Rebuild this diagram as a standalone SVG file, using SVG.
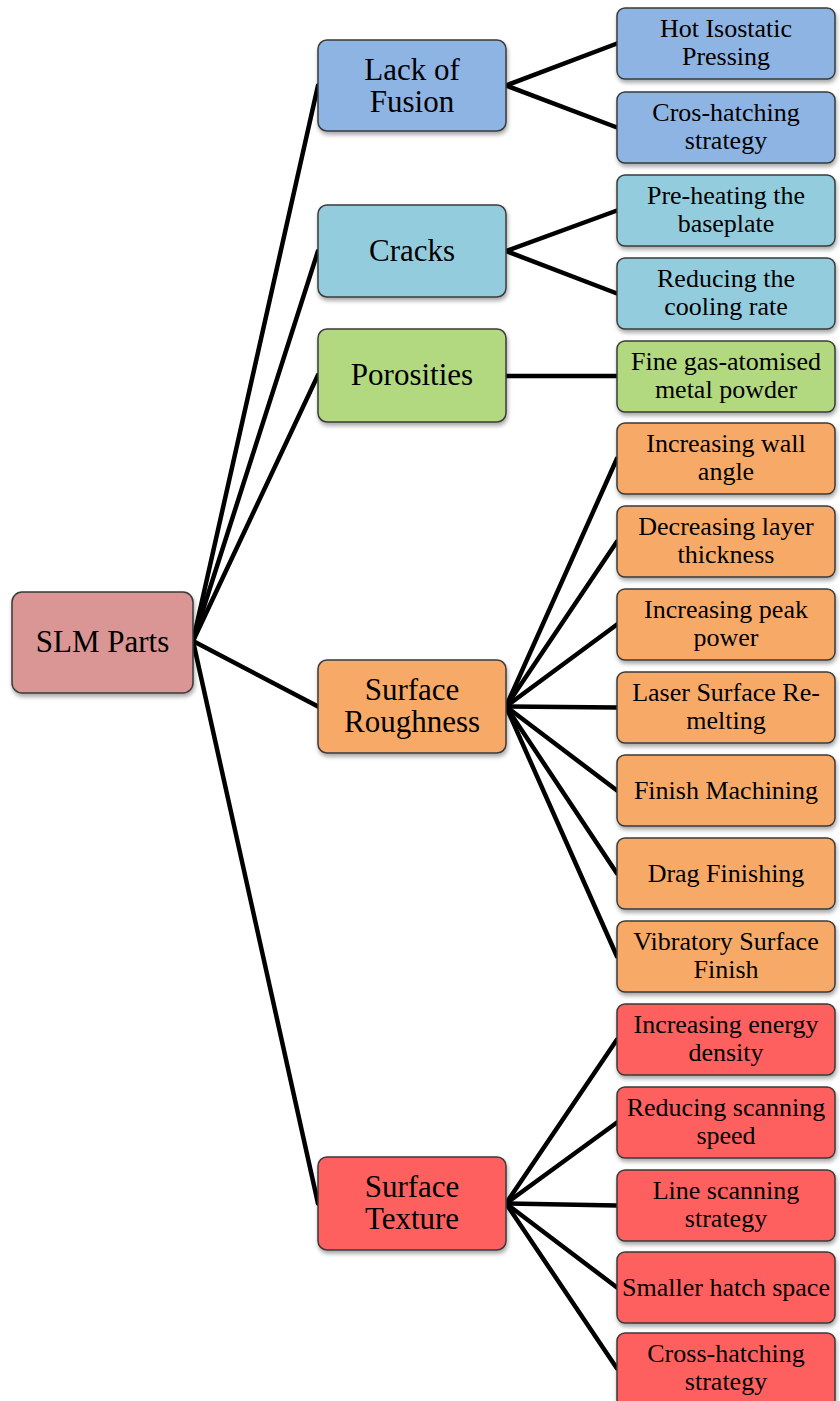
<svg xmlns="http://www.w3.org/2000/svg" width="840" height="1401" viewBox="0 0 840 1401">
<defs>
<filter id="sh" x="-10%" y="-10%" width="125%" height="135%">
<feDropShadow dx="1" dy="3" stdDeviation="2" flood-color="#000" flood-opacity="0.35"/>
</filter>
<style>
.box{stroke:#3a3a3a;stroke-width:1.5;filter:url(#sh)}
.root{fill:#d99694}
.lof{fill:#8eb4e3}
.cr{fill:#93cddd}
.po{fill:#b2d880}
.ro{fill:#f7aa68}
.te{fill:#fe6060}
.m{font-size:31px}
.l{font-size:26px}
.conn line{stroke:#000;stroke-width:4.5;stroke-linecap:round}
</style>
</defs>
<rect width="840" height="1401" fill="#fff"/>
<g class="conn" id="connectors">
<line x1="193" y1="641" x2="318" y2="85.5"/>
<line x1="193" y1="641" x2="318" y2="251"/>
<line x1="193" y1="641" x2="318" y2="375"/>
<line x1="193" y1="641" x2="318" y2="706.5"/>
<line x1="193" y1="641" x2="318" y2="1203.5"/>
<line x1="506" y1="85.5" x2="617" y2="43.5"/>
<line x1="506" y1="85.5" x2="617" y2="127.5"/>
<line x1="506" y1="251" x2="617" y2="210.5"/>
<line x1="506" y1="251" x2="617" y2="293.5"/>
<line x1="506" y1="376" x2="617" y2="376"/>
<line x1="506" y1="706.5" x2="617" y2="458.5"/>
<line x1="506" y1="706.5" x2="617" y2="541.5"/>
<line x1="506" y1="706.5" x2="617" y2="624.5"/>
<line x1="506" y1="706.5" x2="617" y2="707.5"/>
<line x1="506" y1="706.5" x2="617" y2="790.5"/>
<line x1="506" y1="706.5" x2="617" y2="873.5"/>
<line x1="506" y1="706.5" x2="617" y2="956.5"/>
<line x1="506" y1="1203.5" x2="617" y2="1039.5"/>
<line x1="506" y1="1203.5" x2="617" y2="1122.5"/>
<line x1="506" y1="1203.5" x2="617" y2="1205.5"/>
<line x1="506" y1="1203.5" x2="617" y2="1287.5"/>
<line x1="506" y1="1203.5" x2="617" y2="1368.5"/>
</g>
<g id="nodes" font-family="Liberation Serif, DejaVu Serif, serif" fill="#000" text-anchor="middle">
<g id="root"><rect class="box root" x="12" y="592" width="181" height="101" rx="10"/><text class="m" x="102.5" y="652">SLM Parts</text></g>
<g id="lack-of-fusion"><rect class="box lof" x="318" y="40" width="188" height="91" rx="9"/><text class="m" x="412" y="80">Lack of</text><text class="m" x="412" y="112">Fusion</text></g>
<g id="cracks"><rect class="box cr" x="318" y="205" width="188" height="92" rx="9"/><text class="m" x="412" y="261">Cracks</text></g>
<g id="porosities"><rect class="box po" x="318" y="329" width="188" height="93" rx="9"/><text class="m" x="412" y="385">Porosities</text></g>
<g id="surface-roughness"><rect class="box ro" x="318" y="660" width="188" height="93" rx="9"/><text class="m" x="412" y="700">Surface</text><text class="m" x="412" y="732">Roughness</text></g>
<g id="surface-texture"><rect class="box te" x="318" y="1157" width="188" height="93" rx="9"/><text class="m" x="412" y="1197">Surface</text><text class="m" x="412" y="1229">Texture</text></g>
<g id="leaf-hip"><rect class="box lof" x="617" y="8" width="218" height="71" rx="8"/><text class="l" x="726" y="37">Hot Isostatic</text><text class="l" x="726" y="65">Pressing</text></g>
<g id="leaf-cros-hatching"><rect class="box lof" x="617" y="92" width="218" height="71" rx="8"/><text class="l" x="726" y="121">Cros-hatching</text><text class="l" x="726" y="149">strategy</text></g>
<g id="leaf-preheating"><rect class="box cr" x="617" y="175" width="218" height="71" rx="8"/><text class="l" x="726" y="204">Pre-heating the</text><text class="l" x="726" y="232">baseplate</text></g>
<g id="leaf-cooling"><rect class="box cr" x="617" y="258" width="218" height="71" rx="8"/><text class="l" x="726" y="287">Reducing the</text><text class="l" x="726" y="315">cooling rate</text></g>
<g id="leaf-powder"><rect class="box po" x="617" y="341" width="218" height="71" rx="8"/><text class="l" x="726" y="370">Fine gas-atomised</text><text class="l" x="726" y="398">metal powder</text></g>
<g id="leaf-wall"><rect class="box ro" x="617" y="423" width="218" height="71" rx="8"/><text class="l" x="726" y="452">Increasing wall</text><text class="l" x="726" y="480">angle</text></g>
<g id="leaf-layer"><rect class="box ro" x="617" y="506" width="218" height="71" rx="8"/><text class="l" x="726" y="535">Decreasing layer</text><text class="l" x="726" y="563">thickness</text></g>
<g id="leaf-peak"><rect class="box ro" x="617" y="589" width="218" height="71" rx="8"/><text class="l" x="726" y="618">Increasing peak</text><text class="l" x="726" y="646">power</text></g>
<g id="leaf-remelting"><rect class="box ro" x="617" y="672" width="218" height="71" rx="8"/><text class="l" x="726" y="701">Laser Surface Re-</text><text class="l" x="726" y="729">melting</text></g>
<g id="leaf-machining"><rect class="box ro" x="617" y="755" width="218" height="71" rx="8"/><text class="l" x="726" y="799">Finish Machining</text></g>
<g id="leaf-drag"><rect class="box ro" x="617" y="838" width="218" height="71" rx="8"/><text class="l" x="726" y="882">Drag Finishing</text></g>
<g id="leaf-vibratory"><rect class="box ro" x="617" y="921" width="218" height="71" rx="8"/><text class="l" x="726" y="950">Vibratory Surface</text><text class="l" x="726" y="978">Finish</text></g>
<g id="leaf-energy"><rect class="box te" x="617" y="1004" width="218" height="71" rx="8"/><text class="l" x="726" y="1033">Increasing energy</text><text class="l" x="726" y="1061">density</text></g>
<g id="leaf-speed"><rect class="box te" x="617" y="1087" width="218" height="71" rx="8"/><text class="l" x="726" y="1116">Reducing scanning</text><text class="l" x="726" y="1144">speed</text></g>
<g id="leaf-line"><rect class="box te" x="617" y="1170" width="218" height="71" rx="8"/><text class="l" x="726" y="1199">Line scanning</text><text class="l" x="726" y="1227">strategy</text></g>
<g id="leaf-hatch"><rect class="box te" x="617" y="1252" width="218" height="71" rx="8"/><text class="l" x="726" y="1296">Smaller hatch space</text></g>
<g id="leaf-cross-hatching"><rect class="box te" x="617" y="1333" width="218" height="75" rx="8"/><text class="l" x="726" y="1362">Cross-hatching</text><text class="l" x="726" y="1390">strategy</text></g>
</g>
</svg>
